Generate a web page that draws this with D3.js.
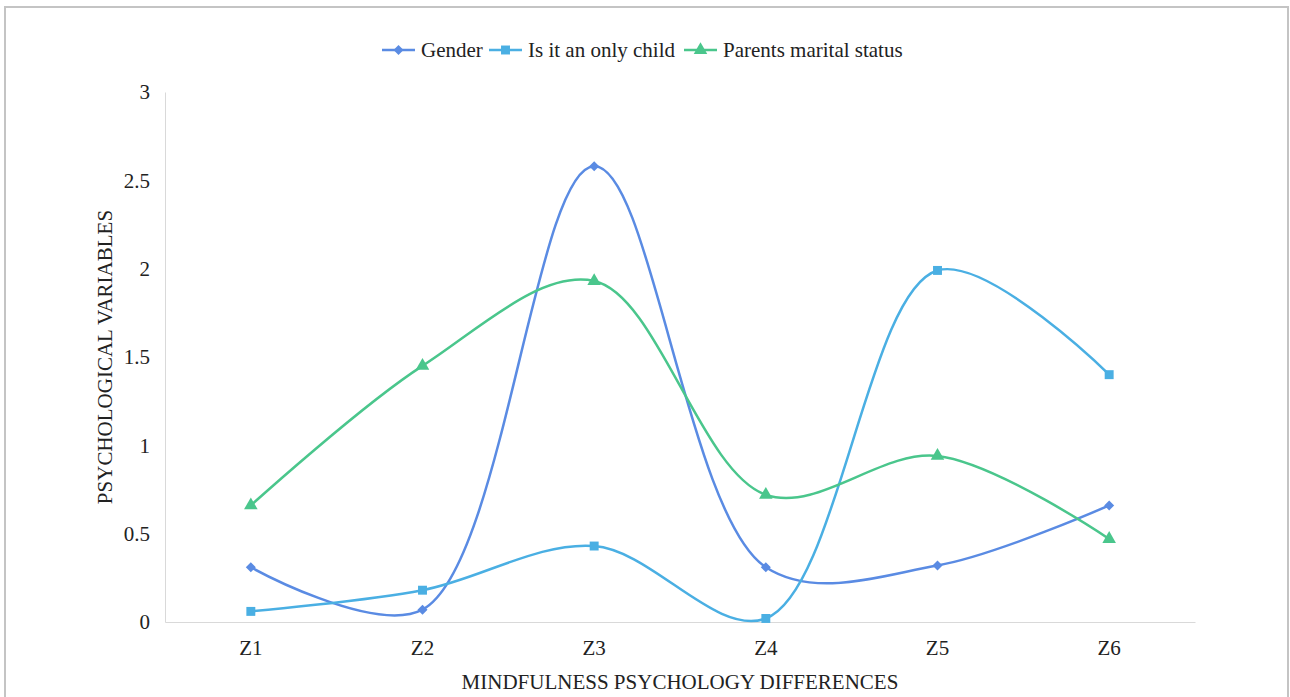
<!DOCTYPE html>
<html>
<head>
<meta charset="utf-8">
<script src="https://cdn.jsdelivr.net/npm/d3@7"></script>
<style>
	body { margin: 0; background: #ffffff; }
</style>
</head>
<body>
<div id="vis_container"></div>
<script>
var categories = ["Z1", "Z2", "Z3", "Z4", "Z5", "Z6"];
var seriesNames = ["Gender", "Is it an only child", "Parents marital status"];
var gender = [0.31, 0.07, 2.58, 0.31, 0.32, 0.66];
var onlyChild = [0.06, 0.18, 0.43, 0.02, 1.99, 1.40];
var parentsStatus = [0.66, 1.45, 1.93, 0.72, 0.94, 0.47];
var yTicks = [0, 0.5, 1, 1.5, 2, 2.5, 3];

var FONT = "Liberation Serif";

var chart = {};
chart.width = 1290;
chart.height = 697;
chart.margin = {"top": 92, "left": 165, "right": 95, "bottom": 75};
chart.colors = ["#5a8be3", "#4aafe3", "#4ac68c"];
// diamond drawn as a square turned 45 degrees, like the spreadsheet marker
chart.symbols = [d3.symbolSquare, d3.symbolSquare, d3.symbolTriangle];
chart.rotate = [45, 0, 0];
chart.symbolSizes = [50, 80, 80];

chart.svg = d3.select("#vis_container").append("svg")
	.attr("width", chart.width)
	.attr("height", chart.height)
	.attr("font-family", FONT);

// outer frame
chart.svg.append("rect")
	.attr("x", 5)
	.attr("y", 7)
	.attr("width", 1283)
	.attr("height", 700)
	.attr("fill", "none")
	.attr("stroke", "#c4c4c4")
	.attr("stroke-width", 2);

chart.x = d3.scaleBand()
	.domain(categories)
	.range([chart.margin.left, chart.width - chart.margin.right]);

chart.y = d3.scaleLinear()
	.domain([0, 3])
	.range([chart.height - chart.margin.bottom, chart.margin.top]);

// y axis
var yAxis = chart.svg.append("g")
	.attr("transform", "translate(" + chart.margin.left + ",0)")
	.call(d3.axisLeft(chart.y).tickValues(yTicks).tickSize(0).tickPadding(15).tickFormat(d3.format("")));
yAxis.attr("font-family", FONT).attr("font-size", 21);
yAxis.select(".domain").attr("stroke", "#d9d9d9");
yAxis.selectAll("text").attr("fill", "#222");

// x axis
var xAxis = chart.svg.append("g")
	.attr("transform", "translate(0," + chart.y(0) + ")")
	.call(d3.axisBottom(chart.x).tickSize(0).tickPadding(18));
xAxis.attr("font-family", FONT).attr("font-size", 21);
xAxis.select(".domain").attr("stroke", "#d9d9d9");
xAxis.selectAll("text").attr("fill", "#222");

// axis titles
chart.svg.append("text")
	.attr("x", (chart.margin.left + chart.width - chart.margin.right) / 2)
	.attr("y", 689)
	.attr("text-anchor", "middle")
	.attr("font-family", FONT)
	.attr("font-size", 21)
	.attr("fill", "#222")
	.text("MINDFULNESS PSYCHOLOGY DIFFERENCES");

chart.svg.append("text")
	.attr("transform", "translate(112," + chart.y(1.5) + ") rotate(-90)")
	.attr("text-anchor", "middle")
	.attr("font-family", FONT)
	.attr("font-size", 21)
	.attr("fill", "#222")
	.text("PSYCHOLOGICAL VARIABLES");

var allSeries = [gender, onlyChild, parentsStatus];

var line = d3.line()
	.x(function(d, i) { return chart.x(categories[i]) + chart.x.bandwidth() / 2; })
	.y(function(d) { return chart.y(d); })
	.curve(d3.curveCatmullRom.alpha(0.5));

allSeries.forEach(function(values, s) {
	chart.svg.append("path")
		.datum(values)
		.attr("d", line)
		.attr("fill", "none")
		.attr("stroke", chart.colors[s])
		.attr("stroke-width", 2.5);

	chart.svg.selectAll(".pt" + s)
		.data(values)
		.enter().append("path")
		.attr("class", "pt" + s)
		.attr("transform", function(d, i) {
			return "translate(" + (chart.x(categories[i]) + chart.x.bandwidth() / 2) + "," + chart.y(d) + ") rotate(" + chart.rotate[s] + ")";
		})
		.attr("d", d3.symbol().type(chart.symbols[s]).size(chart.symbolSizes[s]))
		.attr("fill", chart.colors[s]);
});

// legend
var legendX = [382, 489, 684];
seriesNames.forEach(function(name, s) {
	var g = chart.svg.append("g").attr("transform", "translate(" + legendX[s] + ",50)");
	g.append("line")
		.attr("x1", 0).attr("x2", 33)
		.attr("stroke", chart.colors[s])
		.attr("stroke-width", 2.5);
	g.append("path")
		.attr("transform", "translate(16.5,0) rotate(" + chart.rotate[s] + ")")
		.attr("d", d3.symbol().type(chart.symbols[s]).size(chart.symbolSizes[s]))
		.attr("fill", chart.colors[s]);
	g.append("text")
		.attr("x", 39)
		.attr("y", 7)
		.attr("font-family", FONT)
		.attr("font-size", 21)
		.attr("fill", "#222")
		.text(name);
});
</script>
</body>
</html>
